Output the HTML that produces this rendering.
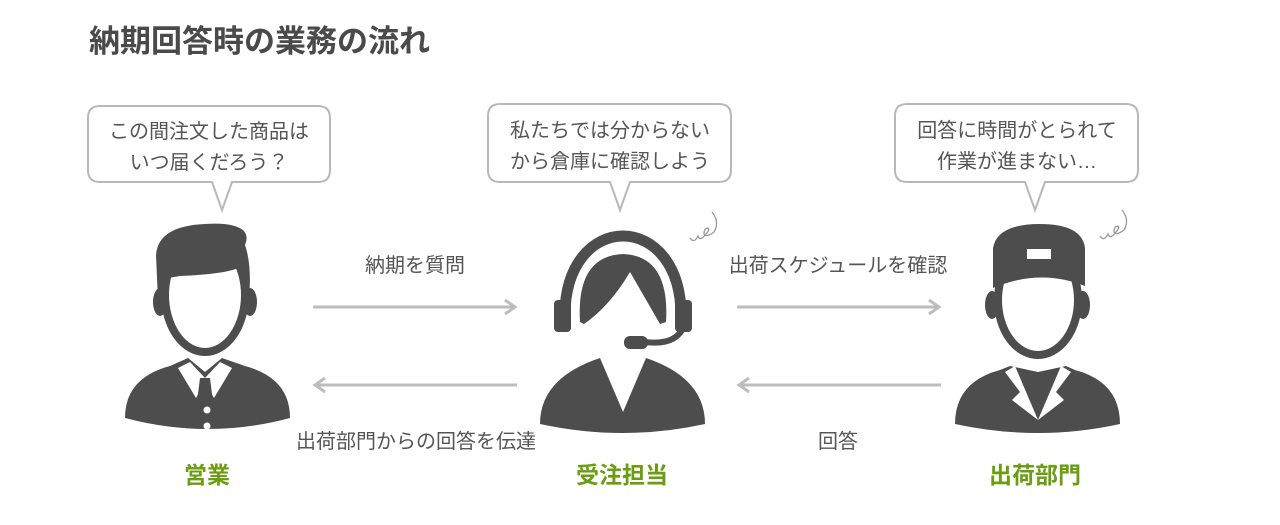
<!DOCTYPE html>
<html><head><meta charset="utf-8"><style>
html,body{margin:0;padding:0;background:#fff;}
svg{display:block}
text{font-family:"Liberation Sans","Noto Sans CJK JP",sans-serif;}
</style></head><body>
<svg width="1280" height="525" viewBox="0 0 1280 525" xmlns="http://www.w3.org/2000/svg">
<text x="89" y="52" font-size="31" font-weight="bold" fill="#4a4a4a">納期回答時の業務の流れ</text>

<!-- bubbles -->
<g fill="#fff" stroke="#b8b8b8" stroke-width="2">
<path d="M100,106 H318 Q330,106 330,118 V170 Q330,182 318,182 H232 L222,210 L212,182 H100 Q88,182 88,170 V118 Q88,106 100,106 Z"/>
<path d="M500,104 H719 Q731,104 731,116 V170 Q731,182 719,182 H630 L620,210 L610,182 H500 Q488,182 488,170 V116 Q488,104 500,104 Z"/>
<path d="M907,104 H1126 Q1138,104 1138,116 V170 Q1138,182 1126,182 H1045 L1035,210 L1025,182 H907 Q895,182 895,170 V116 Q895,104 907,104 Z"/>
</g>
<g font-size="20" fill="#555" text-anchor="middle">
<text x="209" y="138">この間注文した商品は</text>
<text x="209" y="169">いつ届くだろう？</text>
<text x="610" y="137">私たちでは分からない</text>
<text x="610" y="168">から倉庫に確認しよう</text>
<text x="1017" y="137">回答に時間がとられて</text>
<text x="1017" y="168">作業が進まない…</text>
</g>

<!-- arrows -->
<g stroke="#bdbdbd" stroke-width="3" fill="none">
<line x1="313" y1="307" x2="515" y2="307"/><polyline points="505,300 515,307 505,314"/>
<line x1="315" y1="385" x2="517" y2="385"/><polyline points="325,378 315,385 325,392"/>
<line x1="737" y1="307" x2="939" y2="307"/><polyline points="929,300 939,307 929,314"/>
<line x1="739" y1="385" x2="941" y2="385"/><polyline points="749,378 739,385 749,392"/>
</g>
<g font-size="20" fill="#555" text-anchor="middle">
<text x="415" y="272">納期を質問</text>
<text x="416" y="448">出荷部門からの回答を伝達</text>
<text x="838" y="272">出荷スケジュールを確認</text>
<text x="838" y="448">回答</text>
</g>
<g font-size="23" font-weight="bold" fill="#6a9d10" text-anchor="middle">
<text x="207" y="483">営業</text>
<text x="622" y="483">受注担当</text>
<text x="1035" y="483">出荷部門</text>
</g>

<!-- salesman -->
<g fill="#4d4d4d">
<ellipse cx="160" cy="302" rx="7" ry="14"/><ellipse cx="250" cy="302" rx="7" ry="14"/>
<ellipse cx="205" cy="295" rx="40" ry="57" fill="#fff" stroke="#4d4d4d" stroke-width="8"/>
<path d="M158,300 L156,255 Q158,226 205,224 Q232,222 243,230 Q249,236 245,245 Q252,265 249,300 L243,298 L238,268 Q225,274 180,276 L168,278 L164,300 Z"/>
<path d="M125,418 Q125,378 170,366 L188,358 L205,372 L222,358 L245,366 Q290,378 290,418 Q208,440 125,418 Z"/>
<path d="M178,368 L190,362 L205,378 L220,362 L232,368 L214,398 L205,382 L196,398 Z" fill="#fff"/>
<path d="M200,378 L210,378 L213,402 L205,412 L197,402 Z"/>
<circle cx="207" cy="410" r="3.5" fill="#fff"/><circle cx="207" cy="426" r="3.5" fill="#fff"/>
</g>

<!-- operator -->
<g fill="#4d4d4d">
<path d="M565,320 C562,208 684,208 681,320" stroke="#4d4d4d" stroke-width="11" fill="none"/>
<rect x="554" y="300" width="17" height="32" rx="4"/><rect x="675" y="300" width="17" height="32" rx="4"/>
<path d="M580,322 Q576,256 623,254 Q670,256 666,322 L660,324 L630,272 Q610,306 584,324 Z"/>
<path d="M684,326 Q676,346 645,342" stroke="#4d4d4d" stroke-width="6" fill="none"/>
<rect x="624" y="336" width="24" height="13" rx="6"/>
<path d="M540,424 Q540,378 600,358 L623,412 L646,358 Q705,378 705,424 Q623,442 540,424 Z"/>
</g>

<!-- worker -->
<g fill="#4d4d4d">
<ellipse cx="992" cy="305" rx="7" ry="14"/><ellipse cx="1083" cy="305" rx="7" ry="14"/>
<ellipse cx="1038" cy="300" rx="40" ry="55" fill="#fff" stroke="#4d4d4d" stroke-width="8"/>
<path d="M993,288 L993,248 Q997,224 1040,224 Q1082,224 1085,248 L1085,286 Q1040,268 993,288 Z"/>
<rect x="1027" y="249" width="24" height="10" fill="#fff"/>
<path d="M955,424 Q955,382 1000,370 L1010,366 L1038,372 L1066,366 L1075,370 Q1120,382 1120,424 Q1038,442 955,424 Z"/>
<path d="M1005,372 L1015,366 L1038,420 L1012,400 L1020,392 Z" fill="#fff"/>
<path d="M1071,372 L1061,366 L1038,420 L1064,400 L1056,392 Z" fill="#fff"/>
</g>

<!-- scribbles -->
<g stroke="#9a9a9a" stroke-width="1.3" fill="none">
<path d="M690,238 q4,6 8,-2 q2,6 8,-2 q4,-4 2,-6 q-4,0 -4,6 q2,4 10,-2 q6,-10 -2,-20"/>
<path d="M1100,236 q4,6 8,-2 q2,6 8,-2 q4,-4 2,-6 q-4,0 -4,6 q2,4 10,-2 q6,-10 -2,-20"/>
</g>
</svg>
</body></html>
